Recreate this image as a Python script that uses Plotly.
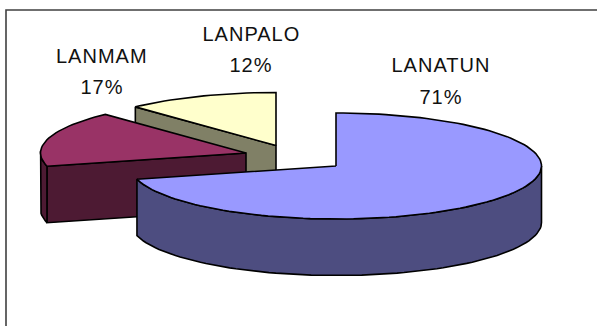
import numpy as np
import plotly.graph_objects as go

labels = ["LANATUN", "LANMAM", "LANPALO"]
values = [71, 17, 12]
top_colors = ["#9999FF", "#993366", "#FFFFCC"]
wall_colors = ["#4D4D80", "#4D1A33", "#808066"]
apex_x = [336, 246, 276]
apex_y = [166, 153, 145.5]
label_x = [441, 102, 251]
name_y = [65, 56, 33.5]
pct_y = [96.5, 87, 65]

RX, RY, DEPTH = 205.5, 53, 56.5
W, H = 597, 326
LINE = dict(color="black", width=1.6)


def rim(cx, cy, a0, a1, dy=0.0, step=2.0):
    n = max(2, int(abs(a1 - a0) / step) + 1)
    t = np.radians(np.linspace(a0, a1, n))
    return cx + RX * np.sin(t), cy - RY * np.cos(t) + dy


def poly(fig, x, y, color):
    fig.add_trace(go.Scatter(x=list(x), y=list(y), mode="lines", fill="toself",
                             fillcolor=color, line=LINE, hoverinfo="skip"))


total = sum(values)
edges = np.concatenate([[0], np.cumsum(values)]) / total * 360
fig = go.Figure()

# drawn back to front: third slice, second slice, first slice
for i in [2, 1, 0]:
    cx, cy = apex_x[i], apex_y[i]
    a0, a1 = edges[i], edges[i + 1]

    if i in (1, 2):  # exposed cut face at the start of the slice
        ex, ey = rim(cx, cy, a0, a0, step=360)
        poly(fig, [ex[0], cx, cx, ex[0], ex[0]],
             [ey[0], cy, cy + DEPTH, ey[0] + DEPTH, ey[0]], wall_colors[i])

    # outer wall for the part of the rim that faces the viewer
    w0, w1 = max(a0, 90), min(a1, 270)
    if i == 1:
        w0, w1 = a0, min(a1, 272)
    if w1 > w0:
        tx, ty = rim(cx, cy, w0, w1)
        bx, by = rim(cx, cy, w1, w0, dy=DEPTH)
        poly(fig, np.r_[tx, bx, tx[0]], np.r_[ty, by, ty[0]], wall_colors[i])

    # top face
    tx, ty = rim(cx, cy, a0, a1)
    poly(fig, np.r_[cx, tx, cx], np.r_[cy, ty, cy], top_colors[i])

FONT = dict(family="Liberation Sans", size=20, color="#111111")
for name, v, lx, ny, py in zip(labels, values, label_x, name_y, pct_y):
    fig.add_annotation(x=lx, y=ny, text=name, showarrow=False, font=FONT)
    fig.add_annotation(x=lx, y=py, text=f"{v}%", showarrow=False, font=FONT)

fig.update_layout(
    width=W, height=H, margin=dict(l=0, r=0, t=0, b=0), autosize=False,
    showlegend=False, paper_bgcolor="white", plot_bgcolor="white",
    xaxis=dict(range=[0, W], visible=False, fixedrange=True),
    yaxis=dict(range=[H, 0], visible=False, fixedrange=True),
    shapes=[dict(type="rect", xref="x", yref="y", x0=6, x1=W + 20,
                 y0=10, y1=H + 20, line=dict(color="#404040", width=1.6),
                 layer="below")],
)
fig.write_html(
    "out.html",
    config={"displayModeBar": False},
    post_script=(
        "document.body.style.margin='0';"
        "document.body.style.overflow='hidden';"
        "document.querySelectorAll('.annotation-text').forEach(function(t){"
        "t.style.letterSpacing='1px';});"
    ),
)
